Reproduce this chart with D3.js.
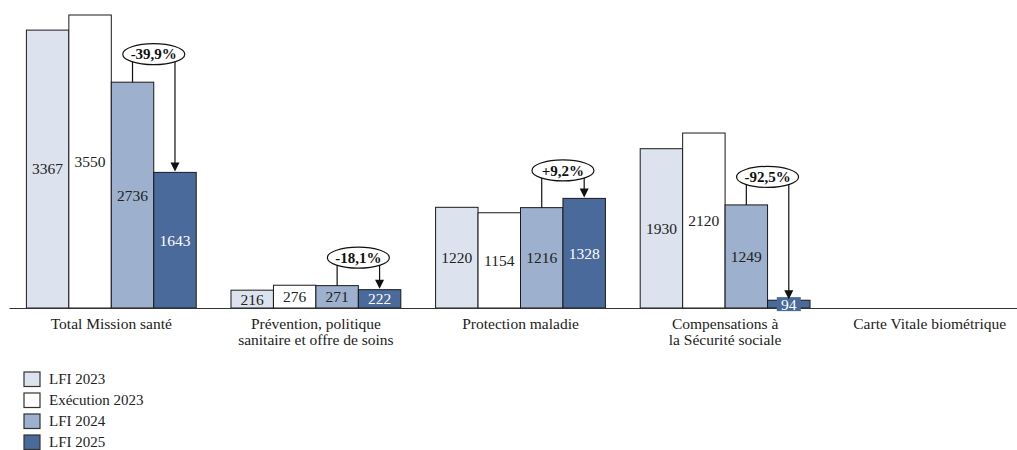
<!DOCTYPE html>
<html>
<head>
<meta charset="utf-8">
<script src="https://cdn.jsdelivr.net/npm/d3@7"></script>
<style>
body{margin:0;background:#fff;}
text{font-family:"Liberation Serif",serif;}
</style>
</head>
<body>
<svg id="chart" width="1017" height="450"></svg>
<script>
var categories=["Total Mission santé","Prévention, politique\nsanitaire et offre de soins","Protection maladie","Compensations à\nla Sécurité sociale","Carte Vitale biométrique"];
var seriesNames=["LFI 2023","Exécution 2023","LFI 2024","LFI 2025"];
var lfi2023=[3367,216,1220,1930,null];
var exec2023=[3550,276,1154,2120,null];
var lfi2024=[2736,271,1216,1249,null];
var lfi2025=[1643,222,1328,94,null];
var evolution=["-39,9%","-18,1%","+9,2%","-92,5%",null];

var colors=["#dde3ee","#ffffff","#9db0cd","#4a6a9b"];
var textColors=["#222","#222","#222","#fff"];
var series=[lfi2023,exec2023,lfi2024,lfi2025];

var svg=d3.select("#chart");

var x0=d3.scaleBand().domain(categories).range([9,1032]).paddingInner(0.17).paddingOuter(0.085);
var x1=d3.scaleBand().domain(seriesNames).range([0,x0.bandwidth()]);
var y=d3.scaleLinear().domain([0,3550]).range([308,15]);

var rows=[];
categories.forEach(function(c,i){
	series.forEach(function(s,j){
		if (s[i]!=null) rows.push({cat:c,ser:seriesNames[j],v:s[i],j:j});
	});
});

// bars
svg.append("g").selectAll("rect")
	.data(rows).enter().append("rect")
	.attr("x",d=>x0(d.cat)+x1(d.ser))
	.attr("y",d=>y(d.v))
	.attr("width",x1.bandwidth())
	.attr("height",d=>y(0)-y(d.v))
	.attr("fill",d=>colors[d.j])
	.attr("stroke","#1a1a1a")
	.attr("stroke-width",1);

// axis
var axis=svg.append("g")
	.attr("transform","translate(0,"+y(0)+")")
	.call(d3.axisBottom(x0).tickSize(0).tickSizeOuter(0).tickFormat(""));
axis.select(".domain").attr("stroke","#333").attr("stroke-width",1.2);
axis.selectAll(".tick").each(function(d){
	var t=d3.select(this).append("text")
		.attr("fill","#222")
		.attr("text-anchor","middle")
		.style("font-size","15.5px")
		.attr("y",21);
	d.split("\n").forEach(function(line,k){
		t.append("tspan").attr("x",0).attr("dy",k==0?0:"1.0em").text(line);
	});
});

// value labels
var labs=svg.append("g").selectAll("g")
	.data(rows).enter().append("g")
	.attr("transform",d=>"translate("+(x0(d.cat)+x1(d.ser)+x1.bandwidth()/2)+","+((y(d.v)+y(0))/2)+")");
labs.filter(d=>d.j==3).append("rect")
	.attr("x",-12).attr("y",-7).attr("width",24).attr("height",14)
	.attr("fill",colors[3]);
labs.append("text")
	.attr("text-anchor","middle")
	.attr("dy","0.35em")
	.style("font-size","15.5px")
	.attr("fill",d=>textColors[d.j])
	.text(d=>d.v);

// evolution annotations
categories.forEach(function(c,i){
	if (evolution[i]==null) return;
	var xa=x0(c)+x1(seriesNames[2])+x1.bandwidth()/2;
	var xb=x0(c)+x1(seriesNames[3])+x1.bandwidth()/2;
	var ya=y(lfi2024[i]), yb=y(lfi2025[i]);
	var cy=Math.min(ya,yb)-26;
	var g=svg.append("g");
	g.append("path")
		.attr("d","M"+xa+","+ya+"V"+cy+"H"+xb+"V"+(yb-9))
		.attr("fill","none").attr("stroke","#111").attr("stroke-width",1.2);
	g.append("path")
		.attr("d","M"+(xb-4.5)+","+(yb-10)+"L"+(xb+4.5)+","+(yb-10)+"L"+xb+","+(yb-1)+"Z")
		.attr("fill","#111");
	g.append("ellipse")
		.attr("cx",(xa+xb)/2).attr("cy",cy-2)
		.attr("rx",31).attr("ry",10.5)
		.attr("fill","#fff").attr("stroke","#111").attr("stroke-width",1.2);
	g.append("text")
		.attr("x",(xa+xb)/2).attr("y",cy-2)
		.attr("dy","0.35em")
		.attr("text-anchor","middle")
		.style("font-size","15px")
		.style("font-weight","bold")
		.attr("fill","#111")
		.text(evolution[i]);
});

// legend
var leg=svg.append("g").selectAll("g")
	.data(seriesNames).enter().append("g")
	.attr("transform",(d,i)=>"translate(24,"+(372+i*21)+")");
leg.append("rect")
	.attr("width",16).attr("height",14.5)
	.attr("fill",(d,i)=>colors[i])
	.attr("stroke","#333").attr("stroke-width",1.2);
leg.append("text")
	.attr("x",25).attr("y",7).attr("dy","0.35em")
	.style("font-size","15px")
	.attr("fill","#222")
	.text(d=>d);
</script>
</body>
</html>
